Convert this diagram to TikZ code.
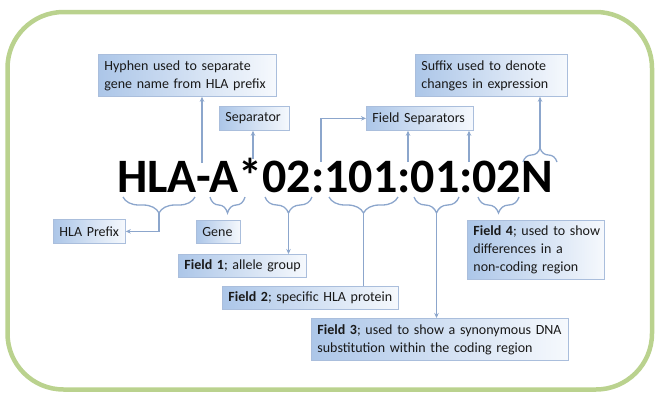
\documentclass[tikz,border=0pt]{standalone}
\usepackage{fontspec}
\setmainfont{Carlito}
\usetikzlibrary{arrows.meta,decorations.pathreplacing}
\definecolor{framegreen}{RGB}{186,210,142}
\definecolor{linkblue}{RGB}{140,166,204}
\definecolor{boxedge}{RGB}{170,190,220}
\definecolor{boxdark}{RGB}{172,198,232}
\definecolor{boxlight}{RGB}{246,249,253}
\definecolor{ink}{RGB}{25,25,25}
% one unbreakable line of a label
\newcommand\oneline[1]{\mbox{#1}}

\begin{document}
\begin{tikzpicture}[x=1pt,y=-1pt,
  label box/.style={draw=boxedge, line width=0.8pt, left color=boxdark, right color=boxlight,
    anchor=north west, inner xsep=6pt, inner ysep=0pt,
    font=\fontsize{14}{18}\selectfont, text=ink, align=left},
  link/.style={draw=linkblue, line width=1.4pt},
  tip/.style={link, -{Stealth[length=5pt,width=4.5pt]}},
  bracket/.style={draw=linkblue, line width=1.3pt, decorate, decoration={brace, amplitude=#1}},
]
\useasboundingbox (0,0) rectangle (656,394);

% outer frame
\draw[framegreen, line width=4.5pt, rounded corners=56pt] (7.5,12) rectangle (652,389.5);

% the allele name
\node[anchor=base west, inner sep=0pt, text=black,
      font=\fontsize{48}{48}\selectfont\bfseries] (code) at (117,192) {HLA-A*02:101:01:02N};

% label boxes above the name
\node[label box, text width=166pt, minimum height=42pt] (hyphen) at (98,54)
  {\oneline{Hyphen used to separate}\\\oneline{gene name from HLA prefix}};
\node[label box, text width=58pt, minimum height=24pt] (sep) at (219,106) {\oneline{Separator}};
\node[label box, text width=95pt, minimum height=24pt] (fsep) at (366,106) {\oneline{Field Separators}};
\node[label box, text width=140pt, minimum height=42pt] (suffix) at (415,54)
  {\oneline{Suffix used to denote}\\\oneline{changes in expression}};

% label boxes below the name
\node[label box, text width=60pt, minimum height=24pt] (prefix) at (53,219) {\oneline{HLA Prefix}};
\node[label box, text width=32pt, minimum height=23pt] (gene) at (196,220) {\oneline{Gene}};
\node[label box, text width=116pt, minimum height=23pt] (f1) at (178,254)
  {\oneline{\textbf{Field 1}; allele group}};
\node[label box, text width=164pt, minimum height=23pt] (f2) at (222,286)
  {\oneline{\textbf{Field 2}; specific HLA protein}};
\node[label box, text width=245pt, minimum height=42pt] (f3) at (311,318)
  {\oneline{\textbf{Field 3}; used to show a synonymous DNA}\\\oneline{substitution within the coding region}};
\node[label box, text width=125pt, minimum height=59pt] (f4) at (467,220)
  {\oneline{\textbf{Field 4}; used to show}\\\oneline{differences in a}\\\oneline{non-coding region}};

% braces under the parts of the name (drawn right to left so they open upwards)
\draw[bracket=16pt] (195,197) -- (123,197);
\draw[bracket=16pt] (245,197) -- (210,197);
\draw[bracket=16pt] (312,197) -- (265,197);
\draw[bracket=16pt] (398,197) -- (329,197);
\draw[bracket=16pt] (459,197) -- (414,197);
\draw[bracket=16pt] (519,197) -- (478,197);
% brace over the suffix
\draw[bracket=14pt] (523,162) -- (557,162);

\coordinate (hlaTip) at (159,213);
\coordinate (f1Tip) at (288.5,213);
\coordinate (f2Tip) at (363.5,213);
\coordinate (f3Tip) at (436.5,213);
\coordinate (nTip) at (540,148);

\coordinate (hyphenFoot) at (202,163);
\coordinate (starFoot) at (253,159);
\coordinate (colonA) at (321,162);
\coordinate (colonB) at (408,162);
\coordinate (colonC) at (469,162);

% connectors
\draw[tip] (hyphenFoot) -- (hyphenFoot |- hyphen.south);
\draw[tip] (starFoot) -- (starFoot |- sep.south);
\draw[tip] (colonA) |- (fsep.west);
\draw[tip] (colonB) -- (colonB |- fsep.south);
\draw[tip] (colonC) -- (colonC |- fsep.south);
\draw[tip] (nTip) -- (nTip |- suffix.south);

\draw[tip] (hlaTip) |- (prefix.east);
\draw[tip] (f1Tip) -- (f1Tip |- f1.north);
\draw[link] (f2Tip) -- (f2Tip |- f2.north);
\draw[tip] (f3Tip) -- (f3Tip |- f3.north);
\end{tikzpicture}
\end{document}
